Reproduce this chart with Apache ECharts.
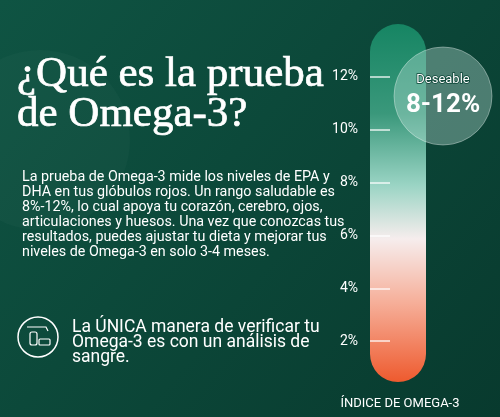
<!DOCTYPE html>
<html><head><meta charset="utf-8">
<script src="https://cdn.jsdelivr.net/npm/echarts@6/dist/echarts.min.js"></script>
<style>html,body{margin:0;padding:0;background:#0b4436}#c{width:500px;height:417px}</style>
</head><body><div id="c"></div>
<script>
const tickValues = [2, 4, 6, 8, 10, 12];
const tickLabels = ['2%', '4%', '6%', '8%', '10%', '12%'];
const categories = ['Índice de Omega-3'];
const barBase = [0.45];
const barSpan = [13.55];
const title = ['¿Qué es la prueba', 'de Omega-3?'];
const paragraph = [
 'La prueba de Omega-3 mide los niveles de EPA y',
 'DHA en tus glóbulos rojos. Un rango saludable es',
 '8%-12%, lo cual apoya tu corazón, cerebro, ojos,',
 'articulaciones y huesos. Una vez que conozcas tus',
 'resultados, puedes ajustar tu dieta y mejorar tus',
 'niveles de Omega-3 en solo 3-4 meses.'];
const note = ['La ÚNICA manera de verificar tu', 'Omega-3 es con un análisis de', 'sangre.'];
const badge = ['Deseable', '8-12%'];
const axisName = 'ÍNDICE DE OMEGA-3';

const ch = echarts.init(document.getElementById('c'));
const F = 'Roboto, sans-serif';
const graphics = [
 {type:'rect', shape:{x:0,y:0,width:500,height:417}, style:{fill:new echarts.graphic.LinearGradient(0,0,1,1,[{offset:0,color:'#0f5443'},{offset:1,color:'#083a2e'}])}, z:-10, silent:true},
 {type:'circle', shape:{cx:40,cy:140,r:90}, style:{fill:'rgba(255,255,255,0.025)'}, z:-9},
 ...title.map((t,i)=>({type:'text', x:17, y:75+i*40, style:{text:t, fill:'#fff', stroke:'#fff', lineWidth:0.7, font:'43px "Liberation Serif", serif', verticalAlign:'middle'}})),
 ...paragraph.map((t,i)=>({type:'text', x:22, y:177+i*15, style:{text:t, fill:'#fff', font:'14.3px '+F, verticalAlign:'middle'}})),
 ...note.map((t,i)=>({type:'text', x:72, y:328+i*15, style:{text:t, fill:'#fff', font:'17.5px '+F, verticalAlign:'middle'}})),
 {type:'circle', shape:{cx:38,cy:337,r:20}, style:{fill:'none', stroke:'#fff', lineWidth:1.5}},
 {type:'rect', shape:{x:30,y:332,width:7,height:13,r:2}, style:{fill:'none', stroke:'#fff', lineWidth:1.2}},
 {type:'rect', shape:{x:39,y:339,width:11,height:6,r:1}, style:{fill:'none', stroke:'#fff', lineWidth:1.2}},
 {type:'polyline', shape:{points:[[27,327],[46,327],[48,331]]}, style:{stroke:'#fff', lineWidth:1.2, fill:'none'}},
 {type:'circle', shape:{cx:443,cy:96,r:49}, style:{fill:'rgba(200,235,225,0.35)', stroke:'rgba(255,255,255,0.35)', lineWidth:1}, z:20},
 {type:'text', x:443, y:80, style:{text:badge[0], fill:'#fff', stroke:'#0b4436', lineWidth:1.5, font:'13px '+F, align:'center', verticalAlign:'middle'}, z:21},
 {type:'text', x:443, y:105, style:{text:badge[1], fill:'#fff', font:'bold 26px '+F, align:'center', verticalAlign:'middle'}, z:21},
 {type:'text', x:400, y:397, style:{text:axisName, fill:'#fff', font:'13px '+F, align:'center'}}
];
ch.setOption({
 animation:false,
 grid:{left:370, width:56, top:24, bottom:23},
 xAxis:{type:'category', data:categories, show:false},
 yAxis:{type:'value', min:0, max:14, interval:2, z:10,
  axisLine:{show:false}, splitLine:{show:false},
  axisTick:{show:true, inside:true, length:20, customValues:tickValues, lineStyle:{color:'rgba(255,255,255,0.85)', width:1.5}},
  axisLabel:{customValues:tickValues, color:'#fff', fontSize:14, fontFamily:'Roboto', margin:12,
   formatter:v=>tickLabels[tickValues.indexOf(v)]}},
 series:[
  {type:'bar', stack:'a', data:barBase, barWidth:'100%', itemStyle:{color:'transparent'}, silent:true},
  {type:'bar', stack:'a', data:barSpan, barWidth:'100%', z:1,
   itemStyle:{borderRadius:28, color:new echarts.graphic.LinearGradient(0,0,0,1,[
    {offset:0,color:'#168563'},{offset:0.25,color:'#3a987b'},{offset:0.45,color:'#9ad4c4'},
    {offset:0.6,color:'#f6eded'},{offset:0.78,color:'#f6ae98'},{offset:1,color:'#ee5a2e'}])}}
 ],
 graphic:graphics
});
</script></body></html>
